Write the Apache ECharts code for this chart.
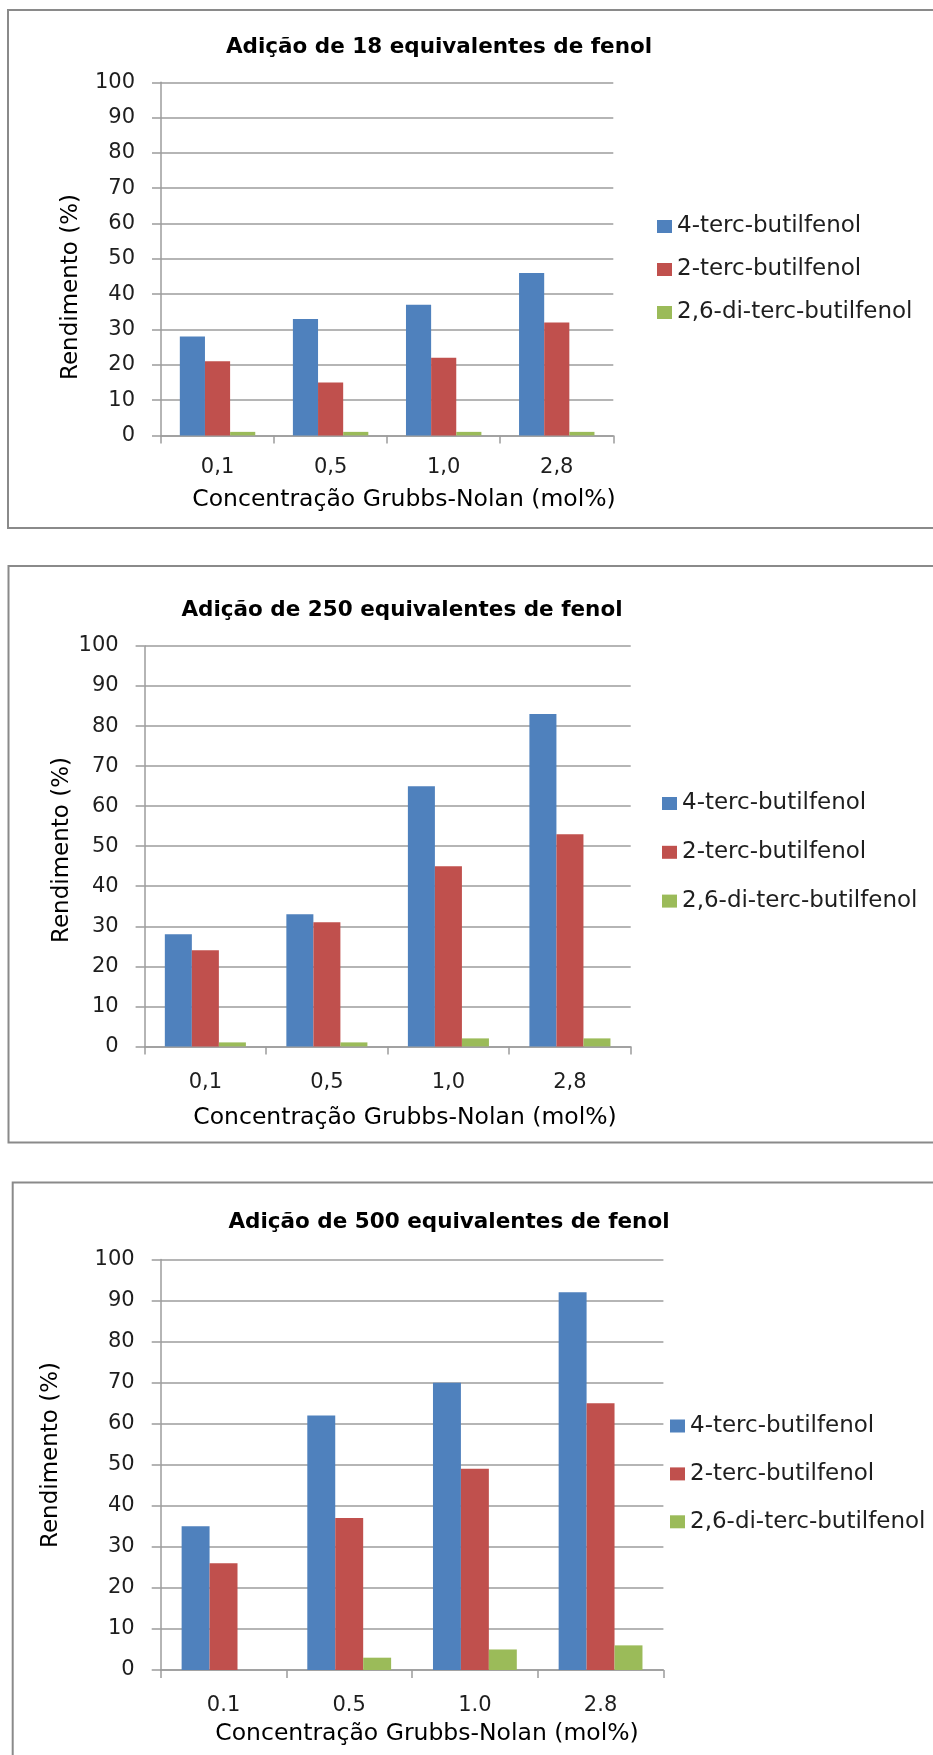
<!DOCTYPE html>
<html>
<head>
<meta charset="utf-8">
<title>Rendimento vs Concentração Grubbs-Nolan</title>
<script src="https://cdn.jsdelivr.net/npm/echarts@6/dist/echarts.min.js"></script>
<style>
  html, body { margin: 0; padding: 0; background: #ffffff; }
  #chart { width: 933px; height: 1755px; }
</style>
</head>
<body>
<div id="chart"></div>
<script>
// ---- data ----
const seriesNames = ['4-terc-butilfenol', '2-terc-butilfenol', '2,6-di-terc-butilfenol'];

const chartTitles = [
  'Adição de 18 equivalentes de fenol',
  'Adição de 250 equivalentes de fenol',
  'Adição de 500 equivalentes de fenol'
];

const categories18 = ['0,1', '0,5', '1,0', '2,8'];
const categories250 = ['0,1', '0,5', '1,0', '2,8'];
const categories500 = ['0.1', '0.5', '1.0', '2.8'];

// yields (%) — 18 equivalents
const terc4_18 = [28, 33, 37, 46];
const terc2_18 = [21, 15, 22, 32];
const diTerc_18 = [1, 1, 1, 1];

// yields (%) — 250 equivalents
const terc4_250 = [28, 33, 65, 83];
const terc2_250 = [24, 31, 45, 53];
const diTerc_250 = [1, 1, 2, 2];

// yields (%) — 500 equivalents
const terc4_500 = [35, 62, 70, 92];
const terc2_500 = [26, 37, 49, 65];
const diTerc_500 = [0, 3, 5, 6];

const yAxisTitle = 'Rendimento (%)';
const xAxisTitle = 'Concentração Grubbs-Nolan (mol%)';
const yMin = 0, yMax = 100, yStep = 10;

// ---- styling / layout ----
const colors = ['#4F81BD', '#C0504D', '#9BBB59'];
const FONT = '"DejaVu Sans", Verdana, sans-serif';
const TEXT = '#1e1e1e';
const GRID_LINE = '#9c9c9c';
const FRAME = '#8a8a8a';

const panels = [
  {
    cats: categories18, values: [terc4_18, terc2_18, diTerc_18],
    frame: { x: 8, y: 10, h: 518 },
    grid: { left: 161, top: 82.3, width: 452.3, height: 353.1 },
    title: { x: 439, y: 47 },
    yTitle: { x: 71, y: 287 },
    xTitle: { x: 404, y: 499.5 },
    xLabelMargin: 22,
    legend: { left: 657, top: 215, gap: 20 }
  },
  {
    cats: categories250, values: [terc4_250, terc2_250, diTerc_250],
    frame: { x: 8.5, y: 566, h: 576.5 },
    grid: { left: 144.6, top: 646, width: 486.1, height: 400.4 },
    title: { x: 402, y: 610.5 },
    yTitle: { x: 62.5, y: 850 },
    xTitle: { x: 405, y: 1117.5 },
    xLabelMargin: 26,
    legend: { left: 662, top: 792, gap: 25.8 }
  },
  {
    cats: categories500, values: [terc4_500, terc2_500, diTerc_500],
    frame: { x: 12.7, y: 1182.5, h: 700 },
    grid: { left: 160.7, top: 1259.5, width: 502.7, height: 410.5 },
    title: { x: 449, y: 1222 },
    yTitle: { x: 50.6, y: 1455 },
    xTitle: { x: 427, y: 1733.4 },
    xLabelMargin: 25,
    legend: { left: 670, top: 1414.5, gap: 24.9 }
  }
];

const grids = [], xAxes = [], yAxes = [], series = [], legends = [], graphics = [];

panels.forEach((p, i) => {
  // outer chart frame
  graphics.push({
    type: 'rect', silent: true,
    shape: { x: p.frame.x, y: p.frame.y, width: 1200, height: p.frame.h },
    style: { fill: 'none', stroke: FRAME, lineWidth: 2 }
  });
  // chart title
  graphics.push({
    type: 'text', silent: true, x: p.title.x, y: p.title.y,
    style: {
      text: chartTitles[i], fontFamily: FONT, fontSize: 21.5, fontWeight: 'bold',
      fill: '#000000', textAlign: 'center', textVerticalAlign: 'middle'
    }
  });
  // y axis title (vertical)
  graphics.push({
    type: 'text', silent: true, x: p.yTitle.x, y: p.yTitle.y, rotation: Math.PI / 2,
    style: {
      text: yAxisTitle, fontFamily: FONT, fontSize: 23,
      fill: '#000000', textAlign: 'center', textVerticalAlign: 'middle'
    }
  });
  // x axis title
  graphics.push({
    type: 'text', silent: true, x: p.xTitle.x, y: p.xTitle.y,
    style: {
      text: xAxisTitle, fontFamily: FONT, fontSize: 23.5,
      fill: '#000000', textAlign: 'center', textVerticalAlign: 'middle'
    }
  });

  grids.push({
    left: p.grid.left, top: p.grid.top, width: p.grid.width, height: p.grid.height,
    containLabel: false, outerBoundsMode: 'none'
  });

  xAxes.push({
    type: 'category', gridIndex: i, data: p.cats, boundaryGap: true,
    axisLine: { show: true, lineStyle: { color: GRID_LINE, width: 1.5 } },
    axisTick: { show: true, length: 8, alignWithLabel: false, lineStyle: { color: GRID_LINE, width: 1.5 } },
    axisLabel: { margin: p.xLabelMargin, fontFamily: FONT, fontSize: 21, color: TEXT },
    splitLine: { show: false }
  });

  yAxes.push({
    type: 'value', gridIndex: i, min: yMin, max: yMax, interval: yStep,
    axisLine: { show: true, lineStyle: { color: GRID_LINE, width: 1.5 } },
    axisTick: { show: true, length: 9, inside: false, lineStyle: { color: GRID_LINE, width: 1.5 } },
    axisLabel: { margin: 26, fontFamily: FONT, fontSize: 21, color: TEXT },
    splitLine: { show: true, lineStyle: { color: GRID_LINE, width: 1.5 } }
  });

  seriesNames.forEach((name, k) => {
    series.push({
      type: 'bar', name: name, xAxisIndex: i, yAxisIndex: i,
      data: p.values[k],
      barGap: '0%', barCategoryGap: '33.3%',
      itemStyle: { color: colors[k] },
      emphasis: { disabled: true },
      silent: true
    });
  });

  legends.push({
    orient: 'vertical', left: p.legend.left, top: p.legend.top,
    itemGap: p.legend.gap, itemWidth: 15, itemHeight: 13, icon: 'rect',
    padding: 0, selectedMode: false,
    textStyle: { fontFamily: FONT, fontSize: 23, lineHeight: 23, color: TEXT },
    data: seriesNames
  });
});

const chart = echarts.init(document.getElementById('chart'), null, { renderer: 'canvas' });
chart.setOption({
  animation: false,
  backgroundColor: '#ffffff',
  color: colors,
  grid: grids,
  xAxis: xAxes,
  yAxis: yAxes,
  legend: legends,
  series: series,
  graphic: graphics
});
</script>
</body>
</html>
